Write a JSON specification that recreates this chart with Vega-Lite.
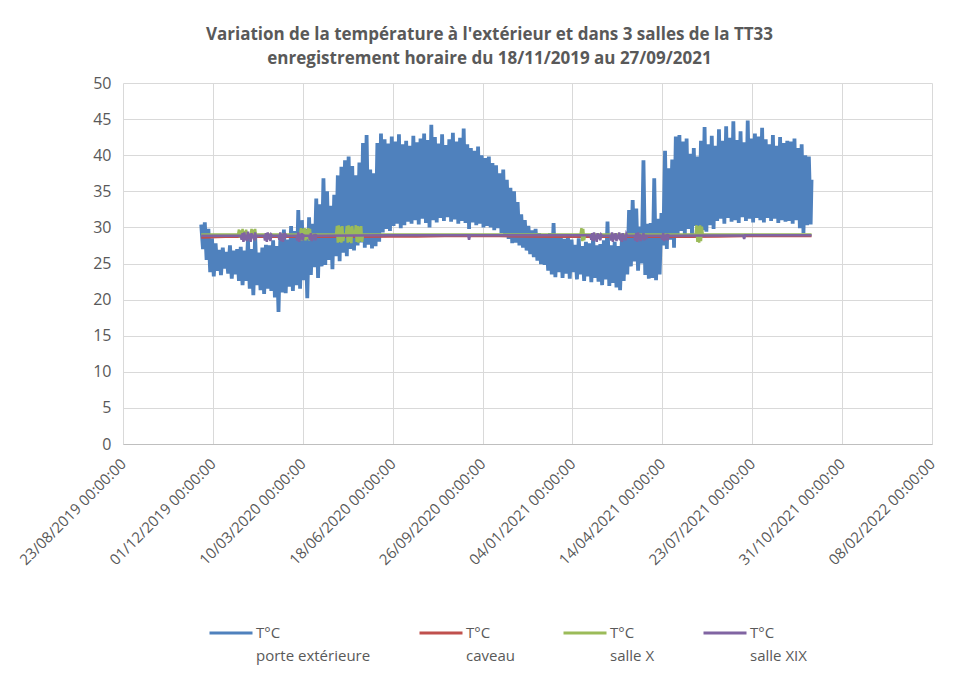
{
"$schema": "https://vega.github.io/schema/vega-lite/v6.json",
"width": 809, "height": 361,
"autosize": {"type": "none"},
"padding": {"left": 123, "top": 83, "right": 46, "bottom": 237},
"background": "white",
"title": {"text": ["Variation de la température à l'extérieur et dans 3 salles de la TT33", "enregistrement horaire du 18/11/2019 au 27/09/2021"], "font": "Open Sans", "fontSize": 17, "fontWeight": "bold", "color": "#595959", "anchor": "middle", "dx": -38, "offset": 7, "lineHeight": 24},
"config": {"view": {"stroke": null}, "font": "Open Sans"},
"datasets": {
"ext": [
{"d":"2019-11-18","v":30.4},{"d":"2019-11-20","v":27.0},{"d":"2019-11-22","v":30.7},{"d":"2019-11-24","v":25.5},{"d":"2019-11-26","v":29.8},{"d":"2019-11-28","v":23.8},{"d":"2019-11-30","v":28.5},
{"d":"2019-12-02","v":23.2},{"d":"2019-12-04","v":27.8},{"d":"2019-12-06","v":24.0},{"d":"2019-12-08","v":26.9},{"d":"2019-12-10","v":23.4},{"d":"2019-12-12","v":27.2},{"d":"2019-12-14","v":24.3},{"d":"2019-12-16","v":26.6},{"d":"2019-12-18","v":23.6},{"d":"2019-12-20","v":27.5},{"d":"2019-12-22","v":22.9},{"d":"2019-12-24","v":26.8},{"d":"2019-12-26","v":23.5},{"d":"2019-12-28","v":27.0},{"d":"2019-12-30","v":22.6},
{"d":"2020-01-01","v":27.3},{"d":"2020-01-03","v":22.0},{"d":"2020-01-05","v":26.8},{"d":"2020-01-07","v":22.6},{"d":"2020-01-09","v":28.4},{"d":"2020-01-11","v":21.5},{"d":"2020-01-13","v":27.0},{"d":"2020-01-15","v":20.6},{"d":"2020-01-17","v":28.8},{"d":"2020-01-19","v":22.0},{"d":"2020-01-21","v":26.5},{"d":"2020-01-23","v":21.3},{"d":"2020-01-25","v":27.2},{"d":"2020-01-27","v":20.8},{"d":"2020-01-29","v":27.6},{"d":"2020-01-31","v":21.5},
{"d":"2020-02-02","v":27.5},{"d":"2020-02-04","v":21.2},{"d":"2020-02-06","v":28.2},{"d":"2020-02-08","v":20.3},{"d":"2020-02-10","v":27.4},{"d":"2020-02-12","v":18.3},{"d":"2020-02-14","v":28.6},{"d":"2020-02-16","v":21.0},{"d":"2020-02-18","v":29.7},{"d":"2020-02-20","v":20.9},{"d":"2020-02-22","v":28.3},{"d":"2020-02-24","v":21.8},{"d":"2020-02-26","v":30.2},{"d":"2020-02-28","v":21.2},
{"d":"2020-03-01","v":29.5},{"d":"2020-03-03","v":22.0},{"d":"2020-03-05","v":32.4},{"d":"2020-03-07","v":21.5},{"d":"2020-03-09","v":31.0},{"d":"2020-03-11","v":22.7},{"d":"2020-03-13","v":29.8},{"d":"2020-03-15","v":20.2},{"d":"2020-03-17","v":31.4},{"d":"2020-03-19","v":23.4},{"d":"2020-03-21","v":30.5},{"d":"2020-03-23","v":24.5},{"d":"2020-03-25","v":34.0},{"d":"2020-03-27","v":23.0},{"d":"2020-03-29","v":33.2},{"d":"2020-03-31","v":24.6},
{"d":"2020-04-02","v":36.8},{"d":"2020-04-04","v":24.8},{"d":"2020-04-06","v":35.0},{"d":"2020-04-08","v":25.5},{"d":"2020-04-10","v":33.0},{"d":"2020-04-12","v":24.2},{"d":"2020-04-14","v":34.5},{"d":"2020-04-16","v":26.0},{"d":"2020-04-18","v":37.2},{"d":"2020-04-20","v":25.3},{"d":"2020-04-22","v":38.4},{"d":"2020-04-24","v":26.5},{"d":"2020-04-26","v":39.3},{"d":"2020-04-28","v":26.0},{"d":"2020-04-30","v":39.8},
{"d":"2020-05-02","v":27.0},{"d":"2020-05-04","v":38.5},{"d":"2020-05-06","v":26.8},{"d":"2020-05-08","v":37.2},{"d":"2020-05-10","v":27.5},{"d":"2020-05-12","v":39.0},{"d":"2020-05-14","v":27.9},{"d":"2020-05-16","v":41.7},{"d":"2020-05-18","v":27.2},{"d":"2020-05-20","v":42.8},{"d":"2020-05-22","v":27.6},{"d":"2020-05-24","v":38.0},{"d":"2020-05-26","v":27.1},{"d":"2020-05-28","v":37.5},{"d":"2020-05-30","v":27.4},
{"d":"2020-06-01","v":41.7},{"d":"2020-06-03","v":28.0},{"d":"2020-06-05","v":43.0},{"d":"2020-06-07","v":29.3},{"d":"2020-06-09","v":42.2},{"d":"2020-06-11","v":29.8},{"d":"2020-06-13","v":41.6},{"d":"2020-06-15","v":29.5},{"d":"2020-06-17","v":42.6},{"d":"2020-06-19","v":30.2},{"d":"2020-06-21","v":41.9},{"d":"2020-06-23","v":30.5},{"d":"2020-06-25","v":42.9},{"d":"2020-06-27","v":29.9},{"d":"2020-06-29","v":41.5},
{"d":"2020-07-01","v":30.3},{"d":"2020-07-03","v":42.0},{"d":"2020-07-05","v":30.8},{"d":"2020-07-07","v":41.3},{"d":"2020-07-09","v":30.5},{"d":"2020-07-11","v":42.7},{"d":"2020-07-13","v":31.0},{"d":"2020-07-15","v":41.8},{"d":"2020-07-17","v":30.4},{"d":"2020-07-19","v":42.3},{"d":"2020-07-21","v":31.2},{"d":"2020-07-23","v":43.0},{"d":"2020-07-25","v":30.6},{"d":"2020-07-27","v":42.1},{"d":"2020-07-29","v":30.0},{"d":"2020-07-31","v":44.2},
{"d":"2020-08-02","v":31.0},{"d":"2020-08-04","v":42.5},{"d":"2020-08-06","v":30.7},{"d":"2020-08-08","v":41.6},{"d":"2020-08-10","v":31.3},{"d":"2020-08-12","v":42.9},{"d":"2020-08-14","v":30.9},{"d":"2020-08-16","v":41.4},{"d":"2020-08-18","v":31.4},{"d":"2020-08-20","v":42.2},{"d":"2020-08-22","v":30.8},{"d":"2020-08-24","v":43.1},{"d":"2020-08-26","v":31.1},{"d":"2020-08-28","v":41.9},{"d":"2020-08-30","v":30.5},
{"d":"2020-09-01","v":42.4},{"d":"2020-09-03","v":30.9},{"d":"2020-09-05","v":43.7},{"d":"2020-09-07","v":30.6},{"d":"2020-09-09","v":41.5},{"d":"2020-09-11","v":29.8},{"d":"2020-09-13","v":41.0},{"d":"2020-09-15","v":30.7},{"d":"2020-09-17","v":40.6},{"d":"2020-09-19","v":30.3},{"d":"2020-09-21","v":41.2},{"d":"2020-09-23","v":30.5},{"d":"2020-09-25","v":40.0},{"d":"2020-09-27","v":30.0},{"d":"2020-09-29","v":39.6},
{"d":"2020-10-01","v":30.2},{"d":"2020-10-03","v":39.8},{"d":"2020-10-05","v":30.0},{"d":"2020-10-07","v":38.9},{"d":"2020-10-09","v":29.6},{"d":"2020-10-11","v":38.6},{"d":"2020-10-13","v":29.9},{"d":"2020-10-15","v":37.5},{"d":"2020-10-17","v":29.2},{"d":"2020-10-19","v":38.0},{"d":"2020-10-21","v":28.8},{"d":"2020-10-23","v":36.6},{"d":"2020-10-25","v":28.4},{"d":"2020-10-27","v":35.5},{"d":"2020-10-29","v":27.8},{"d":"2020-10-31","v":35.0},
{"d":"2020-11-02","v":27.9},{"d":"2020-11-04","v":33.5},{"d":"2020-11-06","v":27.5},{"d":"2020-11-08","v":31.8},{"d":"2020-11-10","v":27.2},{"d":"2020-11-12","v":31.0},{"d":"2020-11-14","v":26.8},{"d":"2020-11-16","v":30.2},{"d":"2020-11-18","v":26.3},{"d":"2020-11-20","v":29.6},{"d":"2020-11-22","v":25.9},{"d":"2020-11-24","v":29.8},{"d":"2020-11-26","v":25.4},{"d":"2020-11-28","v":29.2},{"d":"2020-11-30","v":24.9},
{"d":"2020-12-02","v":29.0},{"d":"2020-12-04","v":24.8},{"d":"2020-12-06","v":28.7},{"d":"2020-12-08","v":24.0},{"d":"2020-12-10","v":29.2},{"d":"2020-12-12","v":23.5},{"d":"2020-12-14","v":30.6},{"d":"2020-12-16","v":23.1},{"d":"2020-12-18","v":28.6},{"d":"2020-12-20","v":23.8},{"d":"2020-12-22","v":28.9},{"d":"2020-12-24","v":23.0},{"d":"2020-12-26","v":28.4},{"d":"2020-12-28","v":23.6},{"d":"2020-12-30","v":28.8},
{"d":"2021-01-01","v":22.9},{"d":"2021-01-03","v":28.3},{"d":"2021-01-05","v":23.8},{"d":"2021-01-07","v":27.6},{"d":"2021-01-09","v":22.8},{"d":"2021-01-11","v":28.5},{"d":"2021-01-13","v":23.5},{"d":"2021-01-15","v":27.4},{"d":"2021-01-17","v":22.6},{"d":"2021-01-19","v":28.0},{"d":"2021-01-21","v":23.2},{"d":"2021-01-23","v":27.8},{"d":"2021-01-25","v":22.4},{"d":"2021-01-27","v":28.6},{"d":"2021-01-29","v":23.0},{"d":"2021-01-31","v":27.5},
{"d":"2021-02-02","v":22.5},{"d":"2021-02-04","v":27.7},{"d":"2021-02-06","v":22.0},{"d":"2021-02-08","v":28.2},{"d":"2021-02-10","v":22.8},{"d":"2021-02-12","v":30.8},{"d":"2021-02-14","v":21.9},{"d":"2021-02-16","v":27.5},{"d":"2021-02-18","v":22.3},{"d":"2021-02-20","v":28.0},{"d":"2021-02-22","v":21.7},{"d":"2021-02-24","v":27.4},{"d":"2021-02-26","v":21.3},{"d":"2021-02-28","v":28.4},
{"d":"2021-03-02","v":22.6},{"d":"2021-03-04","v":28.9},{"d":"2021-03-06","v":23.5},{"d":"2021-03-08","v":32.4},{"d":"2021-03-10","v":24.6},{"d":"2021-03-12","v":33.8},{"d":"2021-03-14","v":25.3},{"d":"2021-03-16","v":32.6},{"d":"2021-03-18","v":24.0},{"d":"2021-03-20","v":30.1},{"d":"2021-03-22","v":25.0},{"d":"2021-03-24","v":39.3},{"d":"2021-03-26","v":23.4},{"d":"2021-03-28","v":30.5},{"d":"2021-03-30","v":22.9},
{"d":"2021-04-01","v":30.6},{"d":"2021-04-03","v":23.0},{"d":"2021-04-05","v":36.8},{"d":"2021-04-07","v":22.7},{"d":"2021-04-09","v":31.2},{"d":"2021-04-11","v":23.5},{"d":"2021-04-13","v":32.0},{"d":"2021-04-15","v":27.5},{"d":"2021-04-17","v":40.6},{"d":"2021-04-19","v":27.0},{"d":"2021-04-21","v":38.2},{"d":"2021-04-23","v":28.3},{"d":"2021-04-25","v":39.4},{"d":"2021-04-27","v":27.2},{"d":"2021-04-29","v":42.6},
{"d":"2021-05-01","v":28.6},{"d":"2021-05-03","v":42.8},{"d":"2021-05-05","v":29.5},{"d":"2021-05-07","v":41.9},{"d":"2021-05-09","v":28.9},{"d":"2021-05-11","v":42.3},{"d":"2021-05-13","v":29.8},{"d":"2021-05-15","v":40.2},{"d":"2021-05-17","v":29.0},{"d":"2021-05-19","v":41.0},{"d":"2021-05-21","v":30.2},{"d":"2021-05-23","v":39.8},{"d":"2021-05-25","v":28.8},{"d":"2021-05-27","v":42.0},{"d":"2021-05-29","v":29.6},{"d":"2021-05-31","v":43.9},
{"d":"2021-06-02","v":29.4},{"d":"2021-06-04","v":41.5},{"d":"2021-06-06","v":30.3},{"d":"2021-06-08","v":42.7},{"d":"2021-06-10","v":29.8},{"d":"2021-06-12","v":41.3},{"d":"2021-06-14","v":30.9},{"d":"2021-06-16","v":43.6},{"d":"2021-06-18","v":31.2},{"d":"2021-06-20","v":42.0},{"d":"2021-06-22","v":30.5},{"d":"2021-06-24","v":44.0},{"d":"2021-06-26","v":31.3},{"d":"2021-06-28","v":42.4},{"d":"2021-06-30","v":30.8},
{"d":"2021-07-02","v":44.7},{"d":"2021-07-04","v":31.0},{"d":"2021-07-06","v":42.1},{"d":"2021-07-08","v":30.6},{"d":"2021-07-10","v":43.3},{"d":"2021-07-12","v":31.4},{"d":"2021-07-14","v":41.8},{"d":"2021-07-16","v":30.9},{"d":"2021-07-18","v":44.8},{"d":"2021-07-20","v":31.2},{"d":"2021-07-22","v":42.3},{"d":"2021-07-24","v":30.7},{"d":"2021-07-26","v":43.0},{"d":"2021-07-28","v":31.3},{"d":"2021-07-30","v":42.6},
{"d":"2021-08-01","v":31.0},{"d":"2021-08-03","v":43.8},{"d":"2021-08-05","v":30.7},{"d":"2021-08-07","v":42.2},{"d":"2021-08-09","v":31.3},{"d":"2021-08-11","v":41.5},{"d":"2021-08-13","v":30.9},{"d":"2021-08-15","v":42.8},{"d":"2021-08-17","v":31.2},{"d":"2021-08-19","v":41.3},{"d":"2021-08-21","v":30.6},{"d":"2021-08-23","v":42.5},{"d":"2021-08-25","v":31.0},{"d":"2021-08-27","v":41.7},{"d":"2021-08-29","v":30.8},{"d":"2021-08-31","v":42.0},
{"d":"2021-09-02","v":30.9},{"d":"2021-09-04","v":41.9},{"d":"2021-09-06","v":30.5},{"d":"2021-09-08","v":42.3},{"d":"2021-09-10","v":31.0},{"d":"2021-09-12","v":41.0},{"d":"2021-09-14","v":29.9},{"d":"2021-09-16","v":41.5},{"d":"2021-09-18","v":29.2},{"d":"2021-09-20","v":40.0},{"d":"2021-09-22","v":30.3},{"d":"2021-09-24","v":39.8},{"d":"2021-09-26","v":30.4},{"d":"2021-09-27","v":36.6}
],
"cav": [
{"d":"2019-11-18","v":28.6},{"d":"2019-12-15","v":28.7},{"d":"2020-01-15","v":28.7},{"d":"2020-02-15","v":28.7},{"d":"2020-03-15","v":28.7},{"d":"2020-04-15","v":28.7},{"d":"2020-05-15","v":28.7},{"d":"2020-06-15","v":28.75},{"d":"2020-07-15","v":28.75},{"d":"2020-08-15","v":28.8},{"d":"2020-09-15","v":28.8},{"d":"2020-10-15","v":28.8},{"d":"2020-11-15","v":28.75},{"d":"2020-12-15","v":28.7},{"d":"2021-01-15","v":28.7},{"d":"2021-02-15","v":28.7},{"d":"2021-03-15","v":28.7},{"d":"2021-04-15","v":28.7},{"d":"2021-05-15","v":28.7},{"d":"2021-06-15","v":28.75},{"d":"2021-07-15","v":28.8},{"d":"2021-08-15","v":28.8},{"d":"2021-09-27","v":28.8}
],
"sx": [
{"d":"2019-11-18","v":29.0},{"d":"2019-12-29","v":29.0},
{"d":"2019-12-30","v":29.7},{"d":"2019-12-31","v":28.6},{"d":"2020-01-01","v":29.6},{"d":"2020-01-02","v":28.7},{"d":"2020-01-03","v":29.8},{"d":"2020-01-04","v":28.6},{"d":"2020-01-05","v":29.5},{"d":"2020-01-06","v":28.8},{"d":"2020-01-07","v":29.7},{"d":"2020-01-08","v":28.7},{"d":"2020-01-09","v":29.0},
{"d":"2020-01-12","v":29.0},{"d":"2020-01-13","v":29.8},{"d":"2020-01-14","v":28.5},{"d":"2020-01-15","v":29.7},{"d":"2020-01-16","v":28.6},{"d":"2020-01-17","v":29.8},{"d":"2020-01-18","v":28.7},{"d":"2020-01-19","v":29.0},
{"d":"2020-03-07","v":29.0},{"d":"2020-03-08","v":29.9},{"d":"2020-03-09","v":28.2},{"d":"2020-03-10","v":29.8},{"d":"2020-03-11","v":28.3},{"d":"2020-03-12","v":29.9},{"d":"2020-03-13","v":28.2},{"d":"2020-03-14","v":29.7},{"d":"2020-03-15","v":28.4},{"d":"2020-03-16","v":29.9},{"d":"2020-03-17","v":28.2},{"d":"2020-03-18","v":29.8},{"d":"2020-03-19","v":28.3},{"d":"2020-03-20","v":29.0},
{"d":"2020-04-16","v":29.0},{"d":"2020-04-17","v":30.2},{"d":"2020-04-18","v":27.9},{"d":"2020-04-19","v":30.3},{"d":"2020-04-20","v":28.0},{"d":"2020-04-21","v":30.1},{"d":"2020-04-22","v":27.9},{"d":"2020-04-23","v":30.2},{"d":"2020-04-24","v":28.1},{"d":"2020-04-25","v":29.0},
{"d":"2020-04-27","v":29.0},{"d":"2020-04-28","v":30.2},{"d":"2020-04-29","v":27.9},{"d":"2020-04-30","v":30.3},{"d":"2020-05-01","v":28.0},{"d":"2020-05-02","v":30.1},{"d":"2020-05-03","v":27.8},{"d":"2020-05-04","v":30.2},{"d":"2020-05-05","v":29.0},
{"d":"2020-05-07","v":29.0},{"d":"2020-05-08","v":30.3},{"d":"2020-05-09","v":28.0},{"d":"2020-05-10","v":30.2},{"d":"2020-05-11","v":27.9},{"d":"2020-05-12","v":30.1},{"d":"2020-05-13","v":28.1},{"d":"2020-05-14","v":30.2},{"d":"2020-05-15","v":28.0},{"d":"2020-05-16","v":29.0},
{"d":"2021-01-13","v":29.0},{"d":"2021-01-14","v":29.9},{"d":"2021-01-15","v":28.1},{"d":"2021-01-16","v":29.8},{"d":"2021-01-17","v":28.2},{"d":"2021-01-18","v":29.0},
{"d":"2021-05-21","v":29.0},{"d":"2021-05-22","v":30.3},{"d":"2021-05-23","v":28.0},{"d":"2021-05-24","v":30.2},{"d":"2021-05-25","v":27.9},{"d":"2021-05-26","v":30.3},{"d":"2021-05-27","v":28.1},{"d":"2021-05-28","v":30.1},{"d":"2021-05-29","v":29.0},
{"d":"2021-09-27","v":29.0}
],
"sxix": [
{"d":"2019-11-18","v":28.85},{"d":"2020-01-01","v":28.85},
{"d":"2020-01-02","v":28.3},{"d":"2020-01-03","v":29.2},{"d":"2020-01-04","v":28.0},{"d":"2020-01-05","v":29.3},{"d":"2020-01-06","v":28.2},{"d":"2020-01-07","v":29.0},{"d":"2020-01-08","v":28.1},{"d":"2020-01-09","v":29.4},{"d":"2020-01-10","v":28.4},{"d":"2020-01-11","v":29.1},{"d":"2020-01-12","v":28.0},{"d":"2020-01-13","v":29.2},{"d":"2020-01-14","v":28.5},{"d":"2020-01-15","v":29.0},{"d":"2020-01-16","v":28.2},{"d":"2020-01-17","v":29.3},{"d":"2020-01-18","v":28.6},{"d":"2020-01-19","v":28.85},
{"d":"2020-01-27","v":28.85},{"d":"2020-01-28","v":28.2},{"d":"2020-01-29","v":29.2},{"d":"2020-01-30","v":28.0},{"d":"2020-01-31","v":29.3},{"d":"2020-02-01","v":28.3},{"d":"2020-02-02","v":29.1},{"d":"2020-02-03","v":28.1},{"d":"2020-02-04","v":29.0},{"d":"2020-02-05","v":28.85},
{"d":"2020-02-12","v":28.85},{"d":"2020-02-13","v":28.3},{"d":"2020-02-14","v":29.3},{"d":"2020-02-15","v":28.1},{"d":"2020-02-16","v":29.1},{"d":"2020-02-17","v":28.0},{"d":"2020-02-18","v":29.2},{"d":"2020-02-19","v":28.4},{"d":"2020-02-20","v":29.0},{"d":"2020-02-21","v":28.85},
{"d":"2020-03-03","v":28.85},{"d":"2020-03-04","v":28.2},{"d":"2020-03-05","v":29.3},{"d":"2020-03-06","v":28.0},{"d":"2020-03-07","v":29.1},{"d":"2020-03-08","v":28.3},{"d":"2020-03-09","v":29.2},{"d":"2020-03-10","v":28.2},{"d":"2020-03-11","v":28.9},{"d":"2020-03-12","v":28.85},
{"d":"2020-03-17","v":28.85},{"d":"2020-03-18","v":28.3},{"d":"2020-03-19","v":29.2},{"d":"2020-03-20","v":28.1},{"d":"2020-03-21","v":29.0},{"d":"2020-03-22","v":28.4},{"d":"2020-03-23","v":29.1},{"d":"2020-03-24","v":28.2},{"d":"2020-03-25","v":28.9},{"d":"2020-03-26","v":28.85},
{"d":"2020-06-15","v":28.9},{"d":"2020-09-10","v":28.9},{"d":"2020-09-11","v":28.3},{"d":"2020-09-12","v":28.9},{"d":"2020-12-15","v":28.9},{"d":"2021-01-24","v":28.9},
{"d":"2021-01-25","v":28.3},{"d":"2021-01-26","v":29.2},{"d":"2021-01-27","v":28.1},{"d":"2021-01-28","v":29.3},{"d":"2021-01-29","v":28.2},{"d":"2021-01-30","v":29.0},{"d":"2021-01-31","v":28.0},{"d":"2021-02-01","v":29.2},{"d":"2021-02-02","v":28.4},{"d":"2021-02-03","v":29.1},{"d":"2021-02-04","v":28.2},{"d":"2021-02-05","v":29.0},{"d":"2021-02-06","v":28.85},
{"d":"2021-02-15","v":28.85},{"d":"2021-02-16","v":28.2},{"d":"2021-02-17","v":29.3},{"d":"2021-02-18","v":28.0},{"d":"2021-02-19","v":29.1},{"d":"2021-02-20","v":28.3},{"d":"2021-02-21","v":29.2},{"d":"2021-02-22","v":28.1},{"d":"2021-02-23","v":29.0},{"d":"2021-02-24","v":28.4},{"d":"2021-02-25","v":29.3},{"d":"2021-02-26","v":28.2},{"d":"2021-02-27","v":29.1},{"d":"2021-02-28","v":28.0},{"d":"2021-03-01","v":29.2},{"d":"2021-03-02","v":28.3},{"d":"2021-03-03","v":29.0},{"d":"2021-03-04","v":28.2},{"d":"2021-03-05","v":29.1},{"d":"2021-03-06","v":28.85},
{"d":"2021-03-14","v":28.85},{"d":"2021-03-15","v":28.2},{"d":"2021-03-16","v":29.2},{"d":"2021-03-17","v":28.0},{"d":"2021-03-18","v":29.3},{"d":"2021-03-19","v":28.3},{"d":"2021-03-20","v":29.1},{"d":"2021-03-21","v":28.1},{"d":"2021-03-22","v":29.0},{"d":"2021-03-23","v":28.4},{"d":"2021-03-24","v":29.2},{"d":"2021-03-25","v":28.2},{"d":"2021-03-26","v":29.0},{"d":"2021-03-27","v":28.4},{"d":"2021-03-28","v":28.85},
{"d":"2021-04-13","v":28.85},{"d":"2021-04-14","v":28.3},{"d":"2021-04-15","v":29.2},{"d":"2021-04-16","v":28.1},{"d":"2021-04-17","v":29.0},{"d":"2021-04-18","v":28.3},{"d":"2021-04-19","v":29.1},{"d":"2021-04-20","v":28.2},{"d":"2021-04-21","v":28.9},{"d":"2021-04-22","v":28.85},
{"d":"2021-07-13","v":28.9},{"d":"2021-07-14","v":28.4},{"d":"2021-07-15","v":28.9},{"d":"2021-09-27","v":28.9}
]
},
"encoding": {
"x": {"field": "d", "type": "temporal",
 "scale": {"type": "utc", "domain": [{"year": 2019, "month": 8, "date": 23, "utc": true}, {"year": 2022, "month": 2, "date": 8, "utc": true}]},
 "axis": {"title": null, "labelExpr": "utcFormat(datum.value, '%d/%m/%Y %H:%M:%S')",
  "values": [{"year":2019,"month":8,"date":23,"utc":true},{"year":2019,"month":12,"date":1,"utc":true},{"year":2020,"month":3,"date":10,"utc":true},{"year":2020,"month":6,"date":18,"utc":true},{"year":2020,"month":9,"date":26,"utc":true},{"year":2021,"month":1,"date":4,"utc":true},{"year":2021,"month":4,"date":14,"utc":true},{"year":2021,"month":7,"date":23,"utc":true},{"year":2021,"month":10,"date":31,"utc":true},{"year":2022,"month":2,"date":8,"utc":true}],
  "labelAngle": -45, "labelAlign": "right", "labelBaseline": "middle", "labelPadding": 17, "labelFlush": false, "labelOverlap": false, "labelBound": false,
  "labelFont": "Open Sans", "labelFontSize": 15, "labelColor": "#595959", "ticks": false,
  "grid": true, "gridColor": "#d9d9d9", "domainColor": "#bfbfbf"}},
"y": {"field": "v", "type": "quantitative", "scale": {"domain": [0, 50], "nice": false, "zero": true},
 "axis": {"title": null, "values": [0,5,10,15,20,25,30,35,40,45,50], "ticks": false, "domain": false, "labelPadding": 12,
  "labelFont": "Open Sans", "labelFontSize": 16, "labelColor": "#595959", "grid": true, "gridColor": "#d9d9d9"}}
},
"layer": [
{"data": {"name": "ext"}, "mark": {"type": "line", "strokeWidth": 3.8, "interpolate": "linear"},
 "encoding": {"color": {"datum": "porte extérieure", "type": "nominal",
  "scale": {"domain": ["porte extérieure", "caveau", "salle X", "salle XIX"], "range": ["#4F81BD", "#C0504D", "#9BBB59", "#8064A2"]},
  "legend": {"title": null, "orient": "none", "legendX": 85, "legendY": 527, "direction": "horizontal", "columns": 4,
   "symbolType": "stroke", "symbolSize": 1849, "symbolStrokeWidth": 3, "labelExpr": "['T°C', datum.label]",
   "labelFont": "Open Sans", "labelFontSize": 15, "labelColor": "#595959", "labelOffset": 2, "columnPadding": 42, "labelLimit": 300, "labelBaseline": "alphabetic",
   "encode": {"labels": {"update": {"lineHeight": {"value": 23}, "dy": {"value": 5}}}}}}}},
{"data": {"name": "cav"}, "mark": {"type": "line", "strokeWidth": 2.5}, "encoding": {"color": {"datum": "caveau", "type": "nominal"}}},
{"data": {"name": "sx"}, "mark": {"type": "line", "strokeWidth": 2.5}, "encoding": {"color": {"datum": "salle X", "type": "nominal"}}},
{"data": {"name": "sxix"}, "mark": {"type": "line", "strokeWidth": 2.5}, "encoding": {"color": {"datum": "salle XIX", "type": "nominal"}}}
]
}
